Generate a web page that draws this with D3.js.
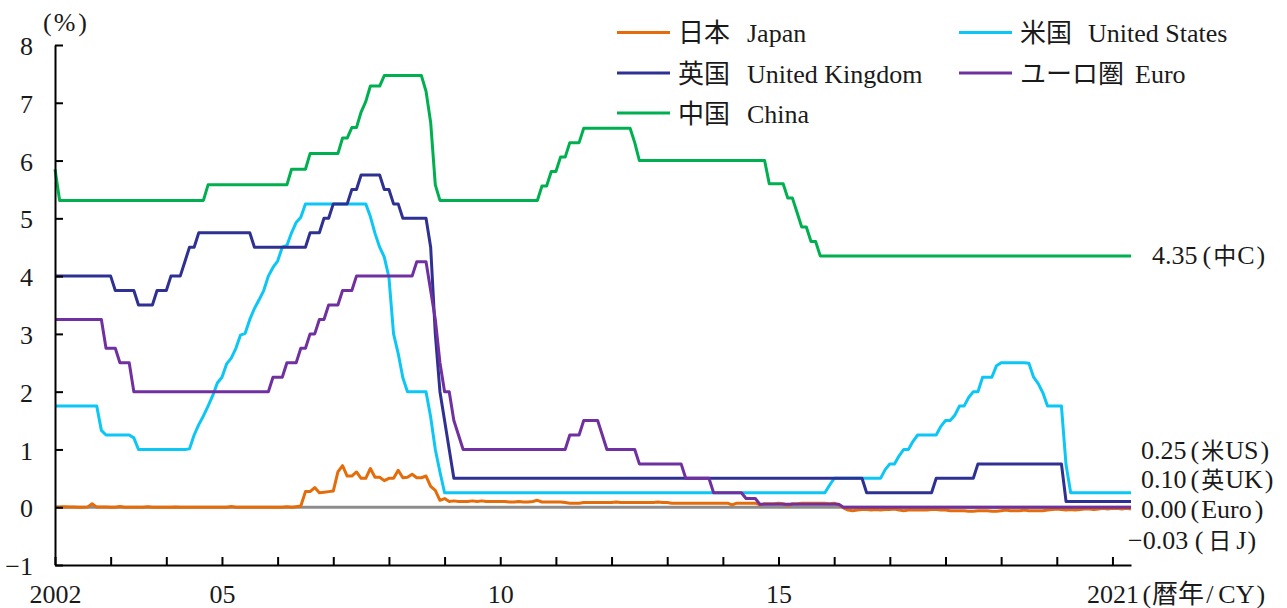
<!DOCTYPE html>
<html><head><meta charset="utf-8">
<script src="https://cdn.jsdelivr.net/npm/d3@7"></script>
<style>
html,body{margin:0;padding:0;background:#fff;}
svg{display:block;}
text{font-family:"Liberation Serif","Noto Sans CJK JP",serif;fill:#1a1a1a;}
</style></head>
<body>
<svg id="chart" width="1287" height="608"></svg>
<script>
// ---- Data: monthly values, Jan 2002 .. May 2021 ----
const startYear = 2002;
const japan = [
 0.002,0.002,0.01,0.002,0.002,0.001,0.001,0.002,0.06,0.002,0.002,0.002,
 0.001,0.001,0.012,0.001,0.001,0.001,0.001,0.001,0.01,0.001,0.001,0.001,
 0.001,0.001,0.004,0.001,0.001,0.001,0.001,0.001,0.001,0.001,0.001,0.001,
 0.001,0.001,0.012,0.001,0.001,0.001,0.001,0.001,0.001,0.001,0.001,0.001,
 0.001,0.001,0.01,0.001,0.01,0.02,0.27,0.27,0.34,0.25,0.26,0.27,
 0.28,0.61,0.72,0.54,0.54,0.61,0.50,0.50,0.67,0.52,0.52,0.46,
 0.50,0.50,0.64,0.51,0.52,0.57,0.51,0.51,0.54,0.36,0.29,0.12,
 0.15,0.10,0.11,0.10,0.10,0.10,0.11,0.10,0.11,0.10,0.10,0.10,
 0.10,0.10,0.09,0.09,0.10,0.09,0.09,0.10,0.12,0.09,0.09,0.09,
 0.09,0.09,0.08,0.07,0.07,0.07,0.08,0.08,0.08,0.08,0.08,0.08,
 0.08,0.09,0.08,0.08,0.08,0.08,0.08,0.08,0.08,0.08,0.09,0.08,
 0.08,0.07,0.07,0.07,0.07,0.07,0.07,0.07,0.07,0.07,0.07,0.07,
 0.07,0.07,0.04,0.07,0.07,0.07,0.07,0.07,0.04,0.06,0.06,0.06,
 0.07,0.06,0.03,0.06,0.06,0.07,0.07,0.07,0.07,0.07,0.07,0.06,
 0.07,0.04,-0.01,-0.05,-0.06,-0.05,-0.04,-0.04,-0.05,-0.04,-0.05,-0.04,
 -0.04,-0.03,-0.05,-0.06,-0.05,-0.05,-0.05,-0.05,-0.05,-0.04,-0.04,-0.05,
 -0.05,-0.06,-0.06,-0.06,-0.06,-0.07,-0.07,-0.06,-0.06,-0.06,-0.07,-0.07,
 -0.06,-0.05,-0.06,-0.06,-0.06,-0.05,-0.06,-0.06,-0.06,-0.06,-0.05,-0.04,
 -0.03,-0.04,-0.05,-0.04,-0.05,-0.04,-0.03,-0.03,-0.04,-0.03,-0.02,-0.03,
 -0.02,-0.02,-0.03,-0.02,-0.03
];
const us = [
 1.75,1.75,1.75,1.75,1.75,1.75,1.75,1.75,1.75,1.75,1.33,1.25,
 1.25,1.25,1.25,1.25,1.25,1.20,1.00,1.00,1.00,1.00,1.00,1.00,
 1.00,1.00,1.00,1.00,1.00,1.01,1.25,1.43,1.58,1.75,1.93,2.15,
 2.25,2.48,2.58,2.75,2.98,3.01,3.25,3.44,3.59,3.75,4.00,4.15,
 4.26,4.50,4.53,4.75,4.93,5.02,5.25,5.25,5.25,5.25,5.25,5.25,
 5.25,5.25,5.25,5.25,5.25,5.25,5.25,5.25,5.03,4.74,4.50,4.33,
 3.98,3.00,2.66,2.24,2.00,2.00,2.00,2.00,2.00,1.56,1.00,0.61,
 0.25,0.25,0.25,0.25,0.25,0.25,0.25,0.25,0.25,0.25,0.25,0.25,
 0.25,0.25,0.25,0.25,0.25,0.25,0.25,0.25,0.25,0.25,0.25,0.25,
 0.25,0.25,0.25,0.25,0.25,0.25,0.25,0.25,0.25,0.25,0.25,0.25,
 0.25,0.25,0.25,0.25,0.25,0.25,0.25,0.25,0.25,0.25,0.25,0.25,
 0.25,0.25,0.25,0.25,0.25,0.25,0.25,0.25,0.25,0.25,0.25,0.25,
 0.25,0.25,0.25,0.25,0.25,0.25,0.25,0.25,0.25,0.25,0.25,0.25,
 0.25,0.25,0.25,0.25,0.25,0.25,0.25,0.25,0.25,0.25,0.25,0.38,
 0.50,0.50,0.50,0.50,0.50,0.50,0.50,0.50,0.50,0.50,0.50,0.65,
 0.75,0.75,0.89,1.00,1.00,1.14,1.25,1.25,1.25,1.25,1.25,1.40,
 1.50,1.50,1.59,1.75,1.75,1.90,2.00,2.00,2.25,2.25,2.25,2.45,
 2.50,2.50,2.50,2.50,2.50,2.50,2.49,2.25,2.14,1.98,1.75,1.75,
 1.75,1.75,0.73,0.25,0.25,0.25,0.25,0.25,0.25,0.25,0.25,0.25,
 0.25,0.25,0.25,0.25,0.25
];
const uk = [
 4,4,4,4,4,4,4,4,4,4,4,4,
 4,3.75,3.75,3.75,3.75,3.75,3.5,3.5,3.5,3.5,3.75,3.75,
 3.75,4,4,4,4.25,4.5,4.5,4.75,4.75,4.75,4.75,4.75,
 4.75,4.75,4.75,4.75,4.75,4.75,4.75,4.5,4.5,4.5,4.5,4.5,
 4.5,4.5,4.5,4.5,4.5,4.5,4.5,4.75,4.75,4.75,5,5,
 5.25,5.25,5.25,5.25,5.5,5.5,5.75,5.75,5.75,5.75,5.75,5.5,
 5.5,5.25,5.25,5,5,5,5,5,5,4.5,3,2,
 1.5,1,0.5,0.5,0.5,0.5,0.5,0.5,0.5,0.5,0.5,0.5,
 0.5,0.5,0.5,0.5,0.5,0.5,0.5,0.5,0.5,0.5,0.5,0.5,
 0.5,0.5,0.5,0.5,0.5,0.5,0.5,0.5,0.5,0.5,0.5,0.5,
 0.5,0.5,0.5,0.5,0.5,0.5,0.5,0.5,0.5,0.5,0.5,0.5,
 0.5,0.5,0.5,0.5,0.5,0.5,0.5,0.5,0.5,0.5,0.5,0.5,
 0.5,0.5,0.5,0.5,0.5,0.5,0.5,0.5,0.5,0.5,0.5,0.5,
 0.5,0.5,0.5,0.5,0.5,0.5,0.5,0.5,0.5,0.5,0.5,0.5,
 0.5,0.5,0.5,0.5,0.5,0.5,0.5,0.25,0.25,0.25,0.25,0.25,
 0.25,0.25,0.25,0.25,0.25,0.25,0.25,0.25,0.25,0.25,0.5,0.5,
 0.5,0.5,0.5,0.5,0.5,0.5,0.5,0.75,0.75,0.75,0.75,0.75,
 0.75,0.75,0.75,0.75,0.75,0.75,0.75,0.75,0.75,0.75,0.75,0.75,
 0.75,0.75,0.1,0.1,0.1,0.1,0.1,0.1,0.1,0.1,0.1,0.1,
 0.1,0.1,0.1,0.1,0.1
];
const euro = [
 3.25,3.25,3.25,3.25,3.25,3.25,3.25,3.25,3.25,3.25,3.25,2.75,
 2.75,2.75,2.5,2.5,2.5,2,2,2,2,2,2,2,
 2,2,2,2,2,2,2,2,2,2,2,2,
 2,2,2,2,2,2,2,2,2,2,2,2.25,
 2.25,2.25,2.5,2.5,2.5,2.75,2.75,3,3,3.25,3.25,3.5,
 3.5,3.5,3.75,3.75,3.75,4,4,4,4,4,4,4,
 4,4,4,4,4,4,4.25,4.25,4.25,3.75,3.25,2.5,
 2,2,1.5,1.25,1,1,1,1,1,1,1,1,
 1,1,1,1,1,1,1,1,1,1,1,1,
 1,1,1,1.25,1.25,1.25,1.5,1.5,1.5,1.5,1.25,1,
 1,1,1,1,1,1,0.75,0.75,0.75,0.75,0.75,0.75,
 0.75,0.75,0.75,0.75,0.5,0.5,0.5,0.5,0.5,0.5,0.25,0.25,
 0.25,0.25,0.25,0.25,0.25,0.15,0.15,0.15,0.05,0.05,0.05,0.05,
 0.05,0.05,0.05,0.05,0.05,0.05,0.05,0.05,0.05,0.05,0.05,0.05,
 0.05,0.05,0,0,0,0,0,0,0,0,0,0,
 0,0,0,0,0,0,0,0,0,0,0,0,
 0,0,0,0,0,0,0,0,0,0,0,0,
 0,0,0,0,0,0,0,0,0,0,0,0,
 0,0,0,0,0,0,0,0,0,0,0,0,
 0,0,0,0,0
];
const china = [
 5.85,5.31,5.31,5.31,5.31,5.31,5.31,5.31,5.31,5.31,5.31,5.31,
 5.31,5.31,5.31,5.31,5.31,5.31,5.31,5.31,5.31,5.31,5.31,5.31,
 5.31,5.31,5.31,5.31,5.31,5.31,5.31,5.31,5.31,5.58,5.58,5.58,
 5.58,5.58,5.58,5.58,5.58,5.58,5.58,5.58,5.58,5.58,5.58,5.58,
 5.58,5.58,5.58,5.85,5.85,5.85,5.85,6.12,6.12,6.12,6.12,6.12,
 6.12,6.12,6.39,6.39,6.57,6.57,6.84,7.02,7.29,7.29,7.29,7.47,
 7.47,7.47,7.47,7.47,7.47,7.47,7.47,7.47,7.20,6.66,5.58,5.31,
 5.31,5.31,5.31,5.31,5.31,5.31,5.31,5.31,5.31,5.31,5.31,5.31,
 5.31,5.31,5.31,5.31,5.31,5.31,5.31,5.31,5.31,5.56,5.56,5.81,
 5.81,6.06,6.06,6.31,6.31,6.31,6.56,6.56,6.56,6.56,6.56,6.56,
 6.56,6.56,6.56,6.56,6.56,6.31,6.00,6.00,6.00,6.00,6.00,6.00,
 6.00,6.00,6.00,6.00,6.00,6.00,6.00,6.00,6.00,6.00,6.00,6.00,
 6.00,6.00,6.00,6.00,6.00,6.00,6.00,6.00,6.00,6.00,5.60,5.60,
 5.60,5.60,5.35,5.35,5.10,4.85,4.85,4.60,4.60,4.35,4.35,4.35,
 4.35,4.35,4.35,4.35,4.35,4.35,4.35,4.35,4.35,4.35,4.35,4.35,
 4.35,4.35,4.35,4.35,4.35,4.35,4.35,4.35,4.35,4.35,4.35,4.35,
 4.35,4.35,4.35,4.35,4.35,4.35,4.35,4.35,4.35,4.35,4.35,4.35,
 4.35,4.35,4.35,4.35,4.35,4.35,4.35,4.35,4.35,4.35,4.35,4.35,
 4.35,4.35,4.35,4.35,4.35,4.35,4.35,4.35,4.35,4.35,4.35,4.35,
 4.35,4.35,4.35,4.35,4.35
];
const seriesNames = ["日本","米国","英国","ユーロ圏","中国"];
const seriesNamesEn = ["Japan","United States","United Kingdom","Euro","China"];
const seriesColors = ["#E46C0A","#0CC6F5","#2E3192","#7030A0","#00B050"];
const yTicks = [-1,0,1,2,3,4,5,6,7,8];
const xTickMonths = [0,12,24,36,48,60,72,84,96,108,120,132,144,156,168,180,192,204,216,228];
const xTickLabels = {0:"2002",36:"05",96:"10",156:"15",228:"2021"};
// end labels split into: value, "(", CJK, latin, ")"
const endLabelParts = [
  ["4.35","(","中","C",")"],
  ["0.25","(","米","US",")"],
  ["0.10","(","英","UK",")"],
  ["0.00","(","","Euro",")"],
  ["−0.03 ","(","日","J",")"]
];

// ---- Chart ----
const svg = d3.select("#chart");
const x = d3.scaleLinear().domain([0,232]).range([55,1131]);
const y = d3.scaleLinear().domain([-1,8]).range([565,45]);
const FS = 26;

// zero line
svg.append("line")
  .attr("x1",x(0)).attr("x2",x(232))
  .attr("y1",y(0)).attr("y2",y(0))
  .attr("stroke","#8c8c8c").attr("stroke-width",3);

const line = d3.line().x((d,i)=>x(i)).y(d=>y(d)).curve(d3.curveLinear);
const allSeries = [japan, us, uk, euro, china];
const drawOrder = [0,1,2,4,3];
drawOrder.forEach(k=>{
  svg.append("path").datum(allSeries[k])
    .attr("d",line).attr("fill","none")
    .attr("stroke",seriesColors[k]).attr("stroke-width",3)
    .attr("stroke-linejoin","round");
});

// axes
const yAxis = d3.axisLeft(y).tickValues(yTicks).tickSizeInner(-8).tickSizeOuter(0).tickPadding(22)
  .tickFormat(d=> d<0 ? "−"+Math.abs(d) : String(d));
const gy = svg.append("g").attr("transform",`translate(${x(0)},0)`).call(yAxis);
const xAxis = d3.axisBottom(x).tickValues(xTickMonths).tickSizeInner(-8).tickSizeOuter(0).tickPadding(20)
  .tickFormat(d=> xTickLabels[d] || "");
const gx = svg.append("g").attr("transform",`translate(0,${y(-1)})`).call(xAxis);
[gx,gy].forEach(g=>{
  g.select(".domain").attr("stroke","#000").attr("stroke-width",2);
  g.selectAll(".tick line").attr("stroke","#000").attr("stroke-width",2);
  g.selectAll(".tick text").attr("font-size",FS).attr("fill","#1a1a1a")
    .style("font-family",'"Liberation Serif","Noto Sans CJK JP",serif');
});
gy.selectAll(".tick text").attr("dy","0.37em");

// unit label (%)
const pct = svg.append("text").attr("x",43).attr("y",31).attr("font-size",FS);
pct.append("tspan").text("(");
pct.append("tspan").attr("dx",2).text("%");
pct.append("tspan").attr("dx",3).text(")");

// x unit label
const cy = svg.append("text").attr("x",x(228)+30).attr("y",603).attr("font-size",FS);
cy.append("tspan").text("(");
cy.append("tspan").attr("dx",1).text("暦年");
cy.append("tspan").attr("dx",2).text("/");
cy.append("tspan").attr("dx",5).text("CY");
cy.append("tspan").attr("dx",2).text(")");

// end labels
const endPos = [[1152,263.5],[1141,459],[1141,488],[1141,517.5],[1128,549]];
const endDx = [
  [0,5,2,1,2],
  [0,4,2,1,2],
  [0,4,2,1,2],
  [0,4,0,2,3],
  [0,0,5,5,1]
];
endLabelParts.forEach((parts,i)=>{
  const t = svg.append("text").attr("x",endPos[i][0]).attr("y",endPos[i][1]).attr("font-size",FS);
  parts.forEach((p,j)=>{
    if(p==="") return;
    const ts = t.append("tspan").attr("dx",endDx[i][j]).text(p);
    if(j===2) ts.attr("font-size",23);
  });
});

// legend
const legendPos = [[617,32.5],[959,32.5],[617,73],[959,73],[617,113]];
const enX = [747,1088,747,1135,747];
seriesNames.forEach((n,i)=>{
  const [lx,ly] = legendPos[i];
  svg.append("line").attr("x1",lx).attr("x2",lx+53).attr("y1",ly).attr("y2",ly)
    .attr("stroke",seriesColors[i]).attr("stroke-width",3);
  svg.append("text").attr("x",lx+61).attr("y",ly+9.5).attr("font-size",FS).text(n);
  svg.append("text").attr("x",enX[i]).attr("y",ly+9.5).attr("font-size",FS).text(seriesNamesEn[i]);
});
</script>
</body></html>
